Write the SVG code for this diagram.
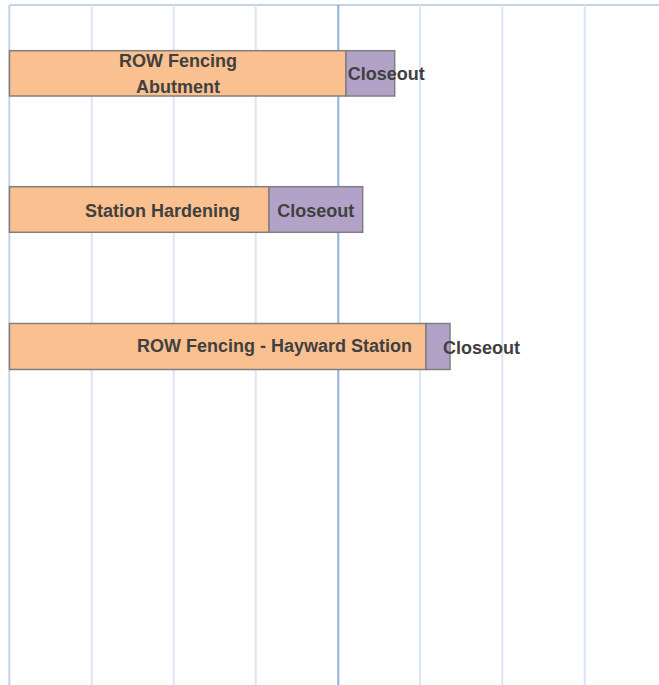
<svg xmlns="http://www.w3.org/2000/svg" width="659" height="685" viewBox="0 0 659 685">
<style>
.grid{stroke:#dbe5f3;stroke-width:2;fill:none}
.axis{stroke:#c3d4ea;stroke-width:2;fill:none}
.mid{stroke:#8fb0da;stroke-width:2;fill:none}
.task{fill:#fac08f;stroke:#7f7f7f;stroke-width:1.5}
.close{fill:#b3a2c7;stroke:#7f7f7f;stroke-width:1.5}
.lbl{font-family:"Liberation Sans",Arial,sans-serif;font-weight:bold;font-size:18px;fill:#404040}
</style>
<rect width="659" height="685" fill="#ffffff"/>
<g id="grid">
<line class="axis" x1="9.5" y1="5" x2="659" y2="5"/>
<line class="grid" x1="91.7" y1="5" x2="91.7" y2="685"/>
<line class="grid" x1="173.7" y1="5" x2="173.7" y2="685"/>
<line class="grid" x1="255.7" y1="5" x2="255.7" y2="685"/>
<line class="grid" x1="420" y1="5" x2="420" y2="685"/>
<line class="grid" x1="502.3" y1="5" x2="502.3" y2="685"/>
<line class="grid" x1="584.7" y1="5" x2="584.7" y2="685"/>
<line class="mid" x1="338.3" y1="5" x2="338.3" y2="685"/>
<line class="axis" x1="9.3" y1="5" x2="9.3" y2="685"/>
</g>
<g id="row-fencing-abutment">
<rect class="task" x="9.5" y="50.7" width="336.5" height="45.3"/>
<rect class="close" x="346" y="50.7" width="48.7" height="45.3"/>
<text class="lbl" x="178" y="66.7" text-anchor="middle">ROW Fencing</text>
<text class="lbl" x="178" y="92.7" text-anchor="middle">Abutment</text>
<text class="lbl" x="347.7" y="80">Closeout</text>
</g>
<g id="station-hardening">
<rect class="task" x="9.5" y="186.7" width="259.5" height="45.6"/>
<rect class="close" x="269" y="186.7" width="93.7" height="45.6"/>
<text class="lbl" x="240" y="216.7" text-anchor="end">Station Hardening</text>
<text class="lbl" x="315.8" y="216.7" text-anchor="middle">Closeout</text>
</g>
<g id="row-fencing-hayward">
<rect class="task" x="9.5" y="323.5" width="416.5" height="46"/>
<rect class="close" x="426" y="323.5" width="24" height="46"/>
<text class="lbl" x="412" y="352" text-anchor="end">ROW Fencing - Hayward Station</text>
<text class="lbl" x="443" y="354">Closeout</text>
</g>
</svg>
